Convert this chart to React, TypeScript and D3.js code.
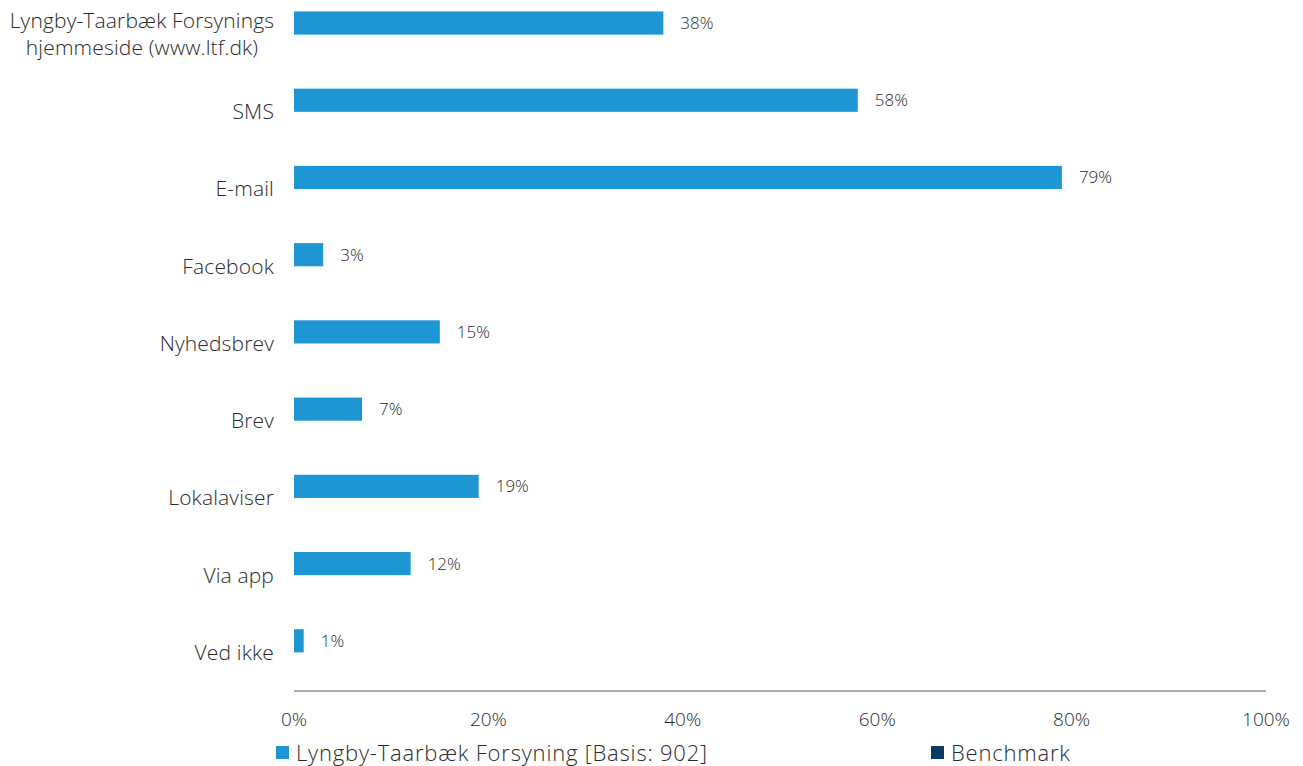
import React from "react";
import * as d3 from "d3";

const categories = [
  "Lyngby-Taarbæk Forsynings\nhjemmeside (www.ltf.dk)",
  "SMS",
  "E-mail",
  "Facebook",
  "Nyhedsbrev",
  "Brev",
  "Lokalaviser",
  "Via app",
  "Ved ikke",
];
const ltfValues = [38, 58, 79, 3, 15, 7, 19, 12, 1];
const seriesNames = ["Lyngby-Taarbæk Forsyning [Basis: 902]", "Benchmark"];
const seriesColors = ["#1E96D3", "#0C3962"];
const xTicks = [0, 20, 40, 60, 80, 100];

const W = 1303;
const H = 766;
const FONT = "'Open Sans', 'Noto Sans', sans-serif";
const TEXT = "#2b2b2b";

export default function App() {
  const x = d3.scaleLinear().domain([0, 100]).range([294, 1266]);
  const y = d3.scaleBand<string>().domain(categories).range([-4, 691]).paddingInner(0.4).paddingOuter(0.2);
  const ySub = d3.scaleBand<string>().domain(seriesNames).range([0, y.bandwidth()]);

  return (
    <svg width={W} height={H} style={{ position: "absolute", left: 0, top: 0, background: "#fff" }} fontFamily={FONT}>
      {categories.map((c, i) => {
        const y0 = y(c)!;
        const cy = y0 + y.bandwidth() / 2;
        const lines = c.split("\n");
        const lh = 27;
        const multi = lines.length > 1;
        return (
          <g key={c}>
            <rect x={x(0)} y={y0 + ySub(seriesNames[0])!} width={x(ltfValues[i]) - x(0)} height={ySub.bandwidth()} fill={seriesColors[0]} />
            <text x={x(ltfValues[i]) + 17} y={y0 + ySub(seriesNames[0])! + ySub.bandwidth() / 2} dy="0.35em" fontSize={17} fill={TEXT} fontWeight={300}>
              {ltfValues[i]}%
            </text>
            {lines.map((l, k) => (
              <text key={k} x={multi ? 142 : 274} y={cy + (k - (lines.length - 1) / 2) * lh} dy="0.35em" textAnchor={multi ? "middle" : "end"} fontSize={21} letterSpacing={0.15} fill={TEXT} fontWeight={300}>
                {l}
              </text>
            ))}
          </g>
        );
      })}
      <line x1={x(0)} x2={x(100)} y1={691} y2={691} stroke="#ababab" strokeWidth={2} />
      {xTicks.map((t) => (
        <text key={t} x={x(t)} y={719} dy="0.35em" textAnchor="middle" fontSize={19} fill={TEXT} fontWeight={300}>
          {t}%
        </text>
      ))}
      {[276, 931].map((lx, i) => (
        <g key={i}>
          <rect x={lx} y={746} width={13} height={13} fill={seriesColors[i]} />
          <text x={lx + 20} y={753} dy="0.35em" fontSize={22} letterSpacing={0.8} fill={TEXT} fontWeight={300}>
            {seriesNames[i]}
          </text>
        </g>
      ))}
    </svg>
  );
}
